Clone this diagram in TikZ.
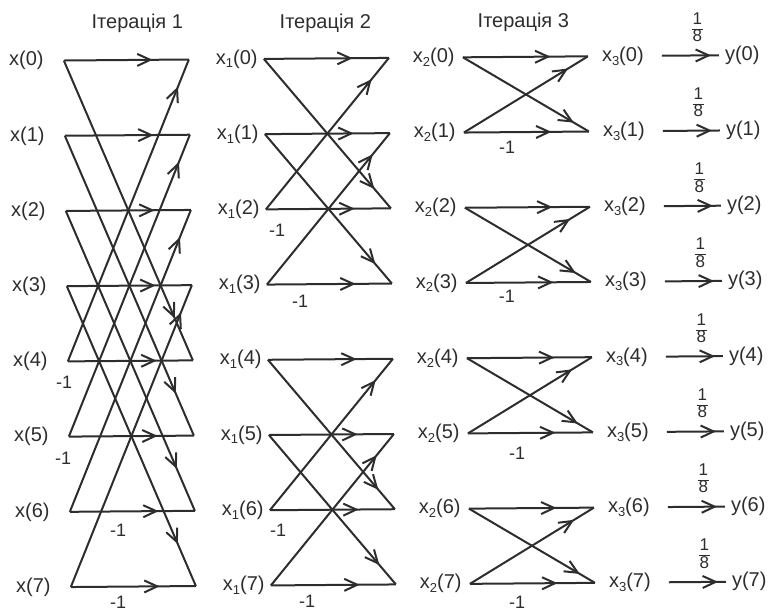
\documentclass[tikz,border=0pt]{standalone}
\usepackage{fontspec}
\setmainfont{Liberation Sans}
\usetikzlibrary{arrows.meta,decorations.markings}
\definecolor{ink}{RGB}{45,45,45}
\newcommand\lblfont{\fontsize{20}{24}\selectfont}
\newcommand\subs[1]{\raisebox{-0.35ex}{\fontsize{13}{13}\selectfont #1}}
\newcommand\eighth{\fontsize{17}{17}\selectfont\setlength{\arrayrulewidth}{1pt}\setlength{\tabcolsep}{1pt}\renewcommand{\arraystretch}{0.9}\begin{tabular}{c}1\\\hline 8\end{tabular}}
\tikzset{
  wire/.style={draw=ink, line width=2pt},
  arr/.style={wire, postaction={decorate},
    decoration={markings, mark=at position #1 with {\arrow{Straight Barb[length=13pt,width=12pt,line width=2pt]}}}},
  lbl/.style={inner sep=0pt, text=ink, font=\lblfont},
  neg/.style={inner sep=0pt, text=ink, font=\fontsize{18}{20}\selectfont},
  ttl/.style={inner sep=0pt, text=ink, font=\lblfont},
  frac/.style={inner sep=0pt, text=ink},
}
\begin{document}
\begin{tikzpicture}[x=1pt,y=-1pt]
\useasboundingbox (0,0) rectangle (772,615);
\begin{scope}[cm={1,0.008,-0.0133,1,(0,0)}]
  % titles
  \node[ttl] (t1) at (137,24) {Ітерація 1};
  \node[ttl] (t2) at (325,25.6) {Ітерація 2};
  \node[ttl] (t3) at (523,27) {Ітерація 3};
  % points and labels
  \foreach \i in {0,...,7} {
    \pgfmathsetmacro\yy{61+75.2*\i}
    \coordinate (a\i) at (63,\yy);
    \coordinate (b\i) at (188,\yy);
    \coordinate (c\i) at (263,\yy);
    \coordinate (d\i) at (388,\yy);
    \coordinate (e\i) at (462,\yy);
    \coordinate (f\i) at (587,\yy);
    \coordinate (os\i) at (661,\yy);
    \coordinate (oe\i) at (718,\yy);
    \node[lbl, anchor=east] (xa\i) at (43,\yy) {x(\i)};
    \node[lbl, anchor=east] (xb\i) at (257,\yy) {x\subs{1}(\i)};
    \node[lbl, anchor=east] (xc\i) at (454,\yy) {x\subs{2}(\i)};
    \node[lbl, anchor=west] (xd\i) at (601,\yy) {x\subs{3}(\i)};
    \node[lbl, anchor=west] (yo\i) at (724,\yy) {y(\i)};
    \node[frac] (fr\i) at (697,\yy-26) {\eighth};
  }
  % stage 1
  \foreach \i in {0,...,7} \draw[arr=0.71] (a\i) -- (b\i);
  \foreach \i in {0,...,3} {
    \pgfmathtruncatemacro\j{\i+4}
    \draw[arr=0.86] (a\i) -- (b\j);
    \draw[arr=0.91] (a\j) -- (b\i);
  }
  % stage 2
  \foreach \i in {0,...,7} \draw[arr=0.71] (c\i) -- (d\i);
  \foreach \i/\j in {0/2,1/3,4/6,5/7} {
    \draw[arr=0.87] (c\i) -- (d\j);
    \draw[arr=0.86] (c\j) -- (d\i);
  }
  % stage 3
  \foreach \i in {0,...,7} \draw[arr=0.70] (e\i) -- (f\i);
  \foreach \i/\j in {0/1,2/3,4/5,6/7} {
    \draw[arr=0.88] (e\i) -- (f\j);
    \draw[arr=0.84] (e\j) -- (f\i);
  }
  % outputs
  \foreach \i in {0,...,7} \draw[arr=0.86] (os\i) -- (oe\i);
  % -1 labels
  \node[neg] (m1) at (59,382.5) {-1};
  \node[neg] (m2) at (57,458.5) {-1};
  \node[neg] (m3) at (111,531) {-1};
  \node[neg] (m4) at (110,603) {-1};
  \node[neg] (m5) at (274,232) {-1};
  \node[neg] (m6) at (296,304) {-1};
  \node[neg] (m7) at (271,532) {-1};
  \node[neg] (m8) at (299,604) {-1};
  \node[neg] (m9) at (505,151) {-1};
  \node[neg] (m10) at (503,300) {-1};
  \node[neg] (m11) at (511,457) {-1};
  \node[neg] (m12) at (509,606) {-1};
\end{scope}
\end{tikzpicture}
\end{document}
